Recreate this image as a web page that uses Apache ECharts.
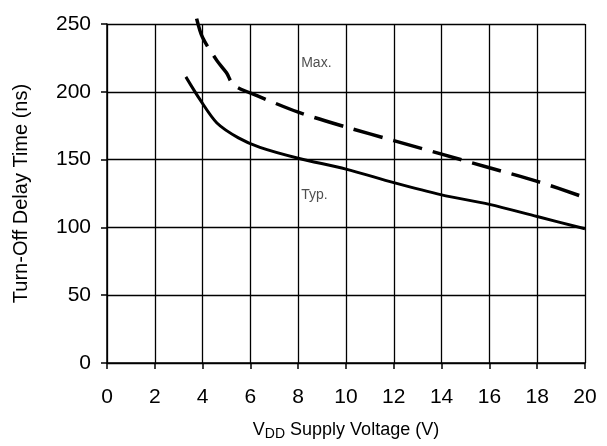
<!DOCTYPE html>
<html><head><meta charset="utf-8">
<script src="https://cdn.jsdelivr.net/npm/echarts@6/dist/echarts.min.js"></script>
<style>html,body{margin:0;padding:0;background:#fff}#c{width:607px;height:446px}</style>
</head><body><div id="c"></div>
<script>
const xTicks = [0,2,4,6,8,10,12,14,16,18,20];
const yTicks = [0,50,100,150,200,250];
const typX = [3.3,3.9,4.6,5.5,6.4,8,10,12,14,16,18,20];
const typY = [211,194,177,166,159,151,143,133,124,117,108,99];
const maxX = [3.75,4.0,4.6,5.0,5.3,6.3,8,10,12,14,16,18,20];
const maxY = [254,240,223,214,205,197,185,174,164,154,144,134,122];
const labelTyp = [8.0,124];
const labelMax = [8.0,221];

const chart = echarts.init(document.getElementById('c'));
const font = 'Liberation Sans, Arial, sans-serif';
chart.setOption({
  animation:false,
  backgroundColor:'#fff',
  grid:{left:107,top:24,right:22,bottom:82},
  xAxis:{type:'value',min:0,max:20,interval:2,
    axisLine:{lineStyle:{color:'#000',width:1.5}},
    axisTick:{show:true,length:6,lineStyle:{color:'#000',width:1.5}},
    splitLine:{show:true,lineStyle:{color:'#000',width:1.3}},
    axisLabel:{color:'#000',fontSize:21,fontFamily:font,margin:24},
    name:'{v|V}{s|DD}{n| Supply Voltage (V)}',nameLocation:'middle',nameGap:57,
    nameTextStyle:{rich:{v:{fontSize:18,fontFamily:font,color:'#000'},
      s:{fontSize:14,fontFamily:font,color:'#000',verticalAlign:'bottom',padding:[7,0,0,0]},
      n:{fontSize:18,fontFamily:font,color:'#000'}}}
  },
  yAxis:{type:'value',min:0,max:250,interval:50,
    axisLine:{show:true,lineStyle:{color:'#000',width:1.5}},
    axisTick:{show:true,length:6,lineStyle:{color:'#000',width:1.5}},
    splitLine:{show:true,lineStyle:{color:'#000',width:1.3}},
    axisLabel:{color:'#000',fontSize:21,fontFamily:font,margin:16},
    name:'Turn-Off Delay Time (ns)',nameLocation:'middle',nameGap:76,
    nameTextStyle:{fontSize:20,fontFamily:font,color:'#000'}
  },
  series:[
    {type:'line',data:typX.map((x,i)=>[x,typY[i]]),smooth:0.3,showSymbol:false,
     lineStyle:{color:'#000',width:3}},
    {type:'line',data:maxX.map((x,i)=>[x,maxY[i]]),smooth:0.3,showSymbol:false,clip:false,
     lineStyle:{color:'#000',width:3.5,type:[30,11]}},
    {type:'scatter',symbolSize:0,data:[labelTyp,labelMax],
     label:{show:true,position:'right',distance:3,fontSize:14,fontFamily:font,color:'#222',
       formatter:p=>p.dataIndex===0?'Typ.':'Max.'}}
  ]
});
</script></body></html>
